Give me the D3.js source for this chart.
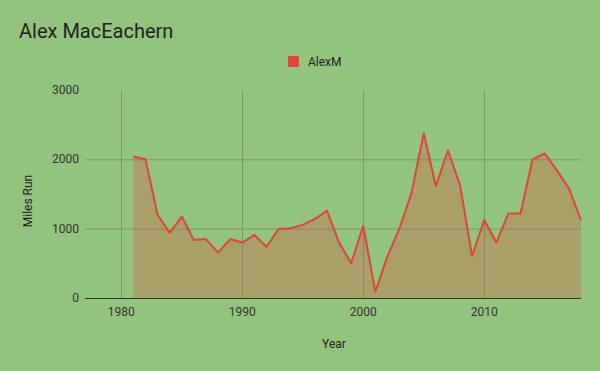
<!DOCTYPE html>
<html>
<head>
<meta charset="utf-8">
<script src="https://cdn.jsdelivr.net/npm/d3@7"></script>
<style>
  body { margin: 0; background: #93c47d; }
  svg { display: block; font-family: Roboto, sans-serif; }
</style>
</head>
<body>
<div id="chart"></div>
<script>
const years = d3.range(1981, 2019);
const miles = [
  2040, 2000, 1200, 940, 1175, 835, 850, 655, 850, 800,
  910, 740, 995, 1005, 1055, 1140, 1260, 800, 500, 1040,
  90, 600, 1005, 1520, 2375, 1615, 2125, 1630, 605, 1125,
  800, 1220, 1220, 2000, 2085, 1845, 1580, 1125
];
const yTicks = [0, 1000, 2000, 3000];
const xTicks = [1980, 1990, 2000, 2010];
const seriesName = 'AlexM';

const width = 600;
const height = 371;
const lineColor = '#e0443a';

const x = d3.scaleLinear()
  .domain([1977, 2018])
  .range([85, 581]);

const y = d3.scaleLinear()
  .domain([0, 3000])
  .range([298, 90]);

const svg = d3.select('#chart')
  .append('svg')
  .attr('width', width)
  .attr('height', height);

svg.append('rect')
  .attr('width', width)
  .attr('height', height)
  .style('fill', '#93c47d');

// title
svg.append('text')
  .attr('x', 19)
  .attr('y', 38)
  .style('font-size', '20px')
  .style('fill', '#222')
  .text('Alex MacEachern');

// legend
svg.append('rect')
  .attr('x', 288)
  .attr('y', 56)
  .attr('width', 11)
  .attr('height', 11)
  .attr('rx', 1.5)
  .style('fill', lineColor);
svg.append('text')
  .attr('x', 308)
  .attr('y', 66)
  .style('font-size', '12px')
  .style('fill', '#222')
  .text(seriesName);

// gridlines
svg.append('g')
  .selectAll('line')
  .data(yTicks.filter(d => d > 0 && d < 3000))
  .join('line')
  .attr('x1', x.range()[0])
  .attr('x2', x.range()[1])
  .attr('y1', d => y(d) + 0.5)
  .attr('y2', d => y(d) + 0.5)
  .style('stroke', '#7a9a66')
  .style('stroke-width', 1);

svg.append('g')
  .selectAll('line')
  .data(xTicks)
  .join('line')
  .attr('x1', d => Math.round(x(d)) + 0.5)
  .attr('x2', d => Math.round(x(d)) + 0.5)
  .attr('y1', y(3000))
  .attr('y2', y(0))
  .style('stroke', '#7a9a66')
  .style('stroke-width', 1);

const data = years.map((yr, i) => ({ year: yr, value: miles[i] }));

const area = d3.area()
  .x(d => x(d.year))
  .y0(y(0))
  .y1(d => y(d.value));

const line = d3.line()
  .x(d => x(d.year))
  .y(d => y(d.value));

svg.append('path')
  .datum(data)
  .attr('d', area)
  .style('fill', lineColor)
  .style('fill-opacity', 0.3);

svg.append('path')
  .datum(data)
  .attr('d', line)
  .style('fill', 'none')
  .style('stroke', lineColor)
  .style('stroke-width', 2)
  .style('stroke-linejoin', 'round');

// baseline
svg.append('line')
  .attr('x1', x.range()[0])
  .attr('x2', x.range()[1])
  .attr('y1', y(0) + 0.5)
  .attr('y2', y(0) + 0.5)
  .style('stroke', '#333')
  .style('stroke-width', 1);

// axis labels
svg.append('g')
  .selectAll('text')
  .data(yTicks)
  .join('text')
  .attr('x', 79)
  .attr('y', d => y(d) + 4)
  .attr('text-anchor', 'end')
  .style('font-size', '12px')
  .style('fill', '#333')
  .text(d => d);

svg.append('g')
  .selectAll('text')
  .data(xTicks)
  .join('text')
  .attr('x', d => x(d))
  .attr('y', 316)
  .attr('text-anchor', 'middle')
  .style('font-size', '12px')
  .style('fill', '#333')
  .text(d => d);

svg.append('text')
  .attr('x', 334)
  .attr('y', 348)
  .attr('text-anchor', 'middle')
  .style('font-size', '12px')
  .style('fill', '#222')
  .text('Year');

svg.append('text')
  .attr('transform', 'translate(32, 201) rotate(-90)')
  .attr('text-anchor', 'middle')
  .style('font-size', '12px')
  .style('fill', '#222')
  .text('Miles Run');
</script>
</body>
</html>
